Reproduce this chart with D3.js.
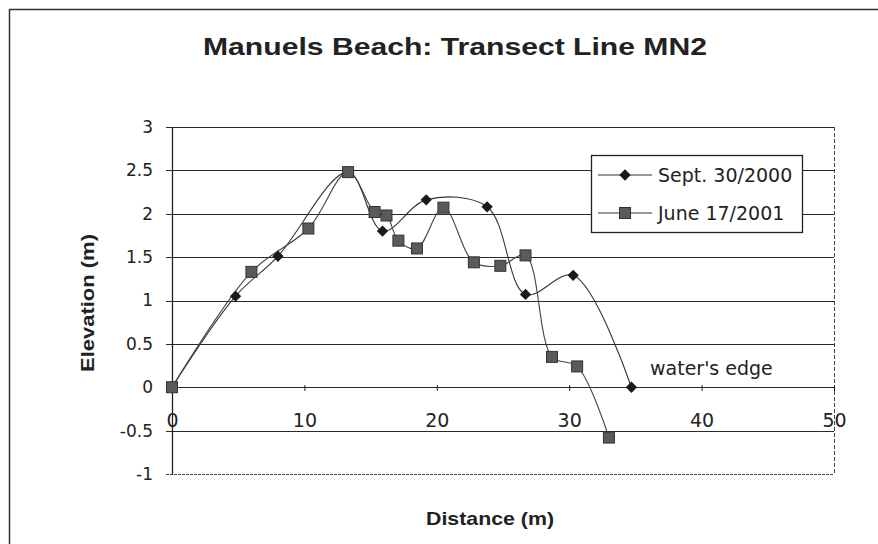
<!DOCTYPE html>
<html>
<head>
<meta charset="utf-8">
<script src="https://cdn.jsdelivr.net/npm/d3@7"></script>
<style>
  body { margin: 0; background: #fff; }
  svg { display: block; font-family: "DejaVu Sans", sans-serif; }
</style>
</head>
<body>
<svg id="chart" width="878" height="544"></svg>
<script>
// ---- data ----
const seriesNames = ["Sept. 30/2000", "June 17/2001"];
const septX = [0, 4.8, 8.0, 13.3, 15.9, 19.2, 23.8, 26.7, 30.3, 34.7];
const septY = [0, 1.05, 1.51, 2.48, 1.80, 2.16, 2.08, 1.07, 1.29, 0];
const juneX = [0, 6.0, 10.3, 13.3, 15.3, 16.2, 17.1, 18.5, 20.5, 22.8, 24.8, 26.7, 28.7, 30.6, 33.0];
const juneY = [0, 1.33, 1.83, 2.48, 2.02, 1.98, 1.69, 1.60, 2.07, 1.44, 1.40, 1.52, 0.35, 0.24, -0.58];
const xTicks = [0, 10, 20, 30, 40, 50];
const yTicks = [-1, -0.5, 0, 0.5, 1, 1.5, 2, 2.5, 3];

(function () {
const svg = d3.select("#chart");
const pL = 172, pR = 834, pT = 127, pB = 474;
const x = d3.scaleLinear().domain([0, 50]).range([pL, pR]);
const y = d3.scaleLinear().domain([-1, 3]).range([pB, pT]);
const ink = "#222";
const tickFont = "DejaVu Sans, sans-serif";

// outer border (top & left visible)
svg.append("line").attr("x1", 9).attr("x2", 878).attr("y1", 9.5).attr("y2", 9.5).attr("stroke", "#333").attr("stroke-width", 1.5);
svg.append("line").attr("x1", 9.5).attr("x2", 9.5).attr("y1", 9).attr("y2", 544).attr("stroke", "#333").attr("stroke-width", 1.5);

// title
svg.append("text").attr("x", 203).attr("y", 55)
  .attr("font-family", "Liberation Sans, Arial, sans-serif")
  .attr("font-size", 23).attr("font-weight", "bold").attr("fill", ink)
  .attr("textLength", 504).attr("lengthAdjust", "spacingAndGlyphs")
  .text("Manuels Beach: Transect Line MN2");

// gridlines
svg.append("g").selectAll("line").data(yTicks.filter(d => d !== -1)).join("line")
  .attr("x1", pL - 6).attr("x2", pR).attr("y1", d => Math.round(y(d)) + 0.5).attr("y2", d => Math.round(y(d)) + 0.5)
  .attr("stroke", "#2a2a2a").attr("stroke-width", 1.2);
// bottom border (dotted) and right border (dashed)
svg.append("line").attr("x1", pL - 6).attr("x2", pR).attr("y1", y(-1) + 0.5).attr("y2", y(-1) + 0.5)
  .attr("stroke", "#444").attr("stroke-dasharray", "3,1");
svg.append("line").attr("x1", pR + 0.5).attr("x2", pR + 0.5).attr("y1", pT).attr("y2", pB)
  .attr("stroke", "#444").attr("stroke-dasharray", "4,2");

// y axis
const yAxis = d3.axisLeft(y).tickValues(yTicks).tickSize(0).tickPadding(19).tickFormat(d3.format("~g"));
const gy = svg.append("g").attr("transform", `translate(${pL},0)`).call(yAxis);
gy.select(".domain").attr("stroke", ink).attr("stroke-width", 1.3);
gy.selectAll("text").attr("font-size", 17).attr("fill", ink).attr("font-family", tickFont)
  .text(d => d3.format("~g")(d).replace("\u2212", "-"));

// x axis at y=0, labels below
const xAxis = d3.axisBottom(x).tickValues(xTicks).tickSize(5).tickPadding(22).tickFormat(d3.format("d"));
const gx = svg.append("g").attr("transform", `translate(0,${Math.round(y(0))})`).call(xAxis);
gx.select(".domain").remove();
gx.selectAll(".tick line").attr("stroke", ink).attr("y1", -2).attr("y2", 4);
gx.selectAll("text").attr("font-size", 19).attr("fill", ink).attr("font-family", tickFont);

// axis titles
svg.append("text").attr("x", 490).attr("y", 525).attr("text-anchor", "middle")
  .attr("font-family", "Liberation Sans, Arial, sans-serif")
  .attr("font-size", 19).attr("font-weight", "bold").attr("fill", ink)
  .attr("textLength", 128).attr("lengthAdjust", "spacingAndGlyphs").text("Distance (m)");
svg.append("text").attr("transform", "translate(94,303) rotate(-90)").attr("text-anchor", "middle")
  .attr("font-family", "Liberation Sans, Arial, sans-serif")
  .attr("font-size", 19).attr("font-weight", "bold").attr("fill", ink)
  .attr("textLength", 138).attr("lengthAdjust", "spacingAndGlyphs").text("Elevation (m)");

// lines
const line = d3.line().x(d => x(d[0])).y(d => y(d[1])).curve(d3.curveCatmullRom.alpha(0.5));
const sept = septX.map((v, i) => [v, septY[i]]);
const june = juneX.map((v, i) => [v, juneY[i]]);
svg.append("path").datum(sept).attr("d", line).attr("fill", "none").attr("stroke", "#333").attr("stroke-width", 1.1);
svg.append("path").datum(june).attr("d", line).attr("fill", "none").attr("stroke", "#444").attr("stroke-width", 1.1);

// markers
const sq = d3.symbol().type(d3.symbolSquare).size(64);
svg.append("g").selectAll("path").data(sept).join("path")
  .attr("transform", d => `translate(${x(d[0])},${y(d[1])}) rotate(45)`).attr("d", sq).attr("fill", "#1a1a1a");
svg.append("g").selectAll("rect").data(june).join("rect")
  .attr("x", d => x(d[0]) - 5.5).attr("y", d => y(d[1]) - 5.5).attr("width", 11).attr("height", 11)
  .attr("fill", "#5a5a5a").attr("stroke", "#333").attr("stroke-width", 1);

// water's edge annotation
svg.append("text").attr("x", 650).attr("y", 375).attr("font-size", 19).attr("fill", ink)
  .attr("font-family", tickFont).text("water's edge");

// legend
const lg = svg.append("g");
lg.append("rect").attr("x", 591.5).attr("y", 155.5).attr("width", 211).attr("height", 77)
  .attr("fill", "#fff").attr("stroke", ink).attr("stroke-width", 1.3);
const rows = [175, 213];
seriesNames.forEach((name, i) => {
  const ry = rows[i];
  lg.append("line").attr("x1", 598).attr("x2", 652).attr("y1", ry).attr("y2", ry).attr("stroke", "#333").attr("stroke-width", 1.2);
  if (i === 0) {
    lg.append("path").attr("transform", `translate(625,${ry}) rotate(45)`).attr("d", sq).attr("fill", "#1a1a1a");
  } else {
    lg.append("rect").attr("x", 619.5).attr("y", ry - 5.5).attr("width", 11).attr("height", 11).attr("fill", "#5a5a5a").attr("stroke", "#333");
  }
  lg.append("text").attr("x", 658).attr("y", ry + 7).attr("font-size", 19).attr("fill", ink)
    .attr("font-family", tickFont).text(name);
});
})();
</script>
</body>
</html>
